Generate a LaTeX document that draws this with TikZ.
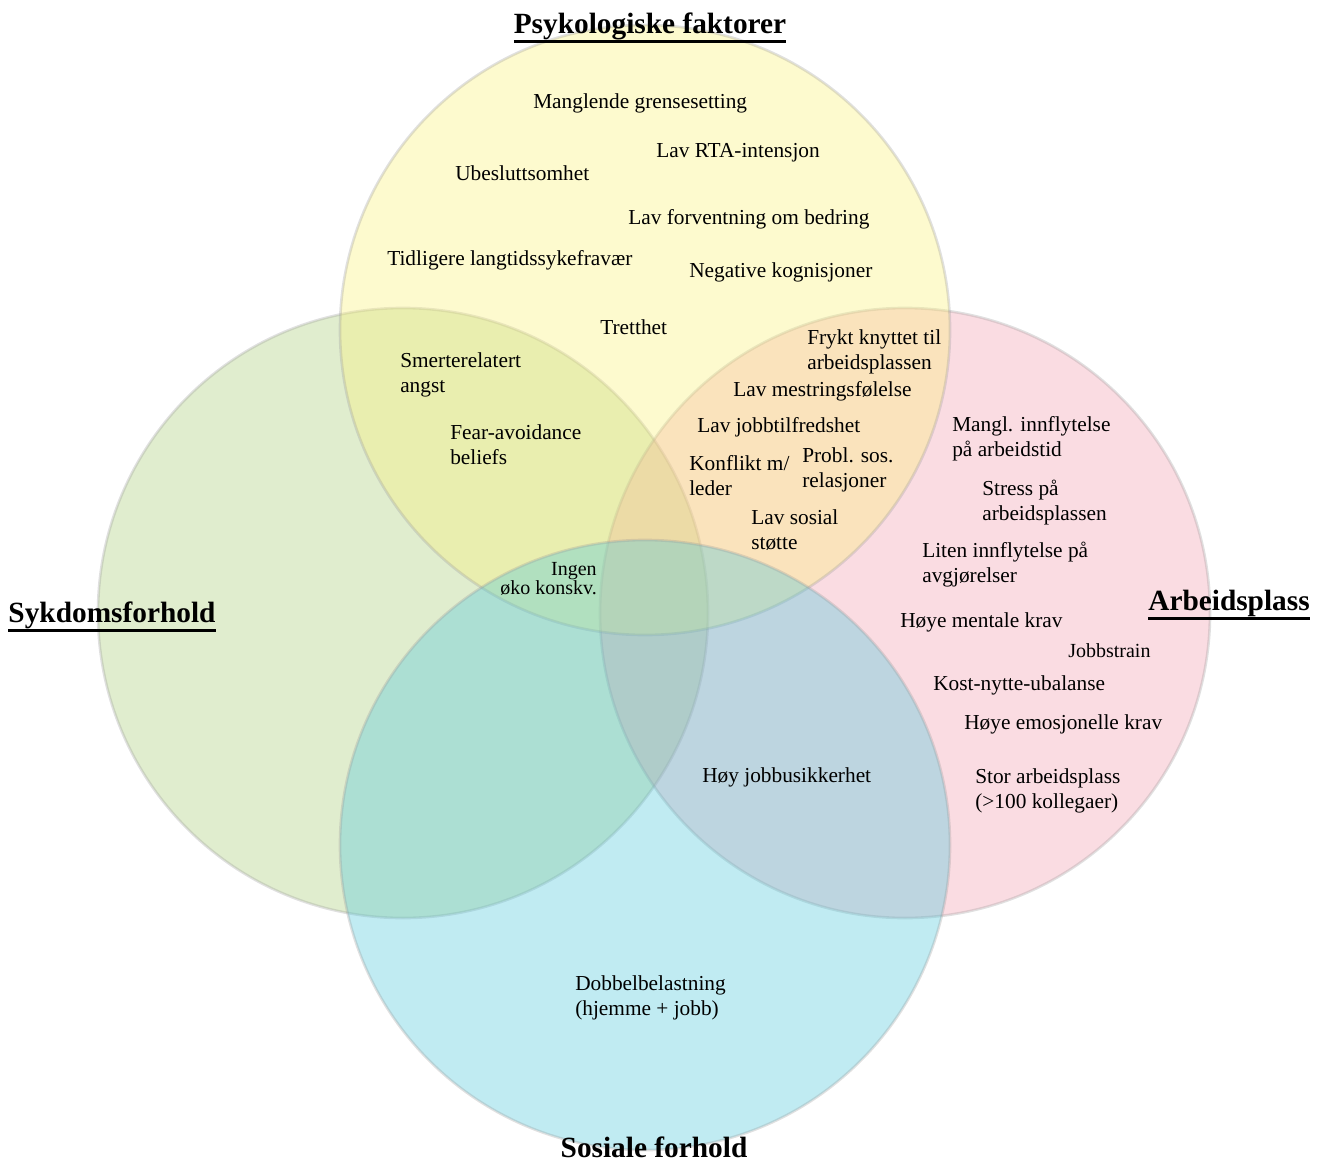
\documentclass[tikz,border=0pt]{standalone}
\usepackage{fontspec}
\setmainfont{Liberation Serif}

\definecolor{psykfill}{RGB}{250,240,120}
\definecolor{sykfill}{RGB}{170,205,120}
\definecolor{arbfill}{RGB}{240,140,160}
\definecolor{sosfill}{RGB}{80,200,220}

\newcommand{\headul}[1]{\setbox0\hbox{#1}\rlap{\copy0}\lower5pt\hbox{\vrule width\wd0 height 0pt depth 2pt}}

\begin{document}
\begin{tikzpicture}[x=0.75pt, y=-0.75pt,
	ring/.style={circle, inner sep=0pt, minimum size=457.5pt, fill opacity=0.36, draw=black!40, draw opacity=0.3, line width=2pt},
	item/.style={anchor=west, align=left, inner sep=0pt, yshift=-1.5pt, font=\fontsize{16}{18.75}\selectfont},
	head/.style={inner sep=0pt, font=\fontsize{22}{24}\selectfont\bfseries}]
	\useasboundingbox (0,0) rectangle (1326,1162);

	\node[ring, fill=sykfill] (syk) at (403,613) {};
	\node[ring, fill=arbfill, fill opacity=0.3] (arb) at (905,613) {};
	\node[ring, fill=psykfill] (psyk) at (645,330) {};
	\node[ring, fill=sosfill, fill opacity=0.36] (sos) at (645,845) {};

	\node[head] (psykhead) at (650,28) {\headul{Psykologiske faktorer}};
	\node[head] (sykhead) at (112,617) {\headul{Sykdomsforhold}};
	\node[head] (arbhead) at (1229,605) {\headul{Arbeidsplass}};
	\node[head] (soshead) at (654,1152) {\headul{Sosiale forhold}};

	\node[item] (grense) at (533,101) {Manglende grensesetting};
	\node[item] (rta) at (656,151) {Lav RTA-intensjon};
	\node[item] (ubeslutt) at (455,171) {Ubesluttsomhet};
	\node[item] (forvent) at (628,217) {Lav forventning om bedring};
	\node[item] (tidligere) at (387,258) {Tidligere langtidssykefravær};
	\node[item] (kognisjon) at (689,270) {Negative kognisjoner};
	\node[item] (tretthet) at (600,325) {Tretthet};

	\node[item] (angst) at (400,372.5) {Smerterelatert\\angst};
	\node[item] (fear) at (450,442.5) {Fear-avoidance\\beliefs};
	\node[item, anchor=east, align=right, font=\fontsize{15}{13.5}\selectfont] (ingen) at (597,577) {Ingen\\øko konskv.};

	\node[item] (frykt) at (807,349.5) {Frykt knyttet til\\arbeidsplassen};
	\node[item] (mestring) at (733,389) {Lav mestringsfølelse};
	\node[item] (tilfreds) at (697,425) {Lav jobbtilfredshet};
	\node[item] (konflikt) at (689,473.5) {Konflikt m/\\leder};
	\node[item] (probl) at (802,467.5) {Probl. sos.\\relasjoner};
	\node[item] (stotte) at (751,528.5) {Lav sosial\\støtte};

	\node[item] (arbtid) at (952,436.5) {Mangl. innflytelse\\på arbeidstid};
	\node[item] (stress) at (982,500.5) {Stress på\\arbeidsplassen};
	\node[item] (avgjor) at (922,562.5) {Liten innflytelse på\\avgjørelser};
	\node[item] (mental) at (900,620) {Høye mentale krav};
	\node[item, font=\fontsize{15}{18}\selectfont] (strain) at (1068,649) {Jobbstrain};
	\node[item] (kost) at (933,683) {Kost-nytte-ubalanse};
	\node[item] (emosjon) at (964,722) {Høye emosjonelle krav};
	\node[item] (stor) at (975,788.5) {Stor arbeidsplass\\(>100 kollegaer)};

	\node[item] (usikker) at (702,775) {Høy jobbusikkerhet};
	\node[item] (dobbel) at (575,995.5) {Dobbelbelastning\\(hjemme + jobb)};
\end{tikzpicture}
\end{document}
